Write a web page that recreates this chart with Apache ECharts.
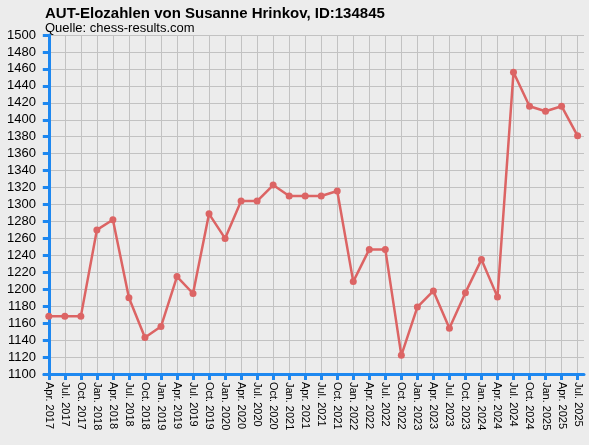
<!DOCTYPE html>
<html>
<head>
<meta charset="utf-8">
<script src="https://cdn.jsdelivr.net/npm/echarts@6/dist/echarts.min.js"></script>
<style>
    html, body { margin: 0; padding: 0; background: #ececec; }
    #chart { width: 589px; height: 445px; }
</style>
</head>
<body>
<div id="chart"></div>
<script>
// Quartale der Elo-Liste
var quarters = [
    'Apr. 2017', 'Jul. 2017', 'Oct. 2017', 'Jan. 2018', 'Apr. 2018', 'Jul. 2018', 'Oct. 2018',
    'Jan. 2019', 'Apr. 2019', 'Jul. 2019', 'Oct. 2019', 'Jan. 2020', 'Apr. 2020', 'Jul. 2020',
    'Oct. 2020', 'Jan. 2021', 'Apr. 2021', 'Jul. 2021', 'Oct. 2021', 'Jan. 2022', 'Apr. 2022',
    'Jul. 2022', 'Oct. 2022', 'Jan. 2023', 'Apr. 2023', 'Jul. 2023', 'Oct. 2023', 'Jan. 2024',
    'Apr. 2024', 'Jul. 2024', 'Oct. 2024', 'Jan. 2025', 'Apr. 2025', 'Jul. 2025'
];
// Elozahlen
var elo = [
    1168, 1168, 1168, 1270, 1282, 1190, 1143,
    1156, 1215, 1195, 1289, 1260, 1304, 1304,
    1323, 1310, 1310, 1310, 1316, 1209, 1247,
    1247, 1122, 1179, 1198, 1154, 1196, 1235,
    1191, 1456, 1416, 1410, 1416, 1381
];
var yMin = 1100, yMax = 1500, yStep = 20;

var idx = quarters.map(function (q, i) { return i; });
var points = elo.map(function (v, i) { return [i, v]; });

var chart = echarts.init(document.getElementById('chart'));
var option = {
    backgroundColor: '#ececec',
    animation: false,
    title: {
        text: 'AUT-Elozahlen von Susanne Hrinkov, ID:134845',
        subtext: 'Quelle: chess-results.com',
        left: 40,
        top: 1,
        itemGap: 1,
        textStyle: { fontFamily: 'Liberation Sans', fontSize: 15, fontWeight: 'bold', color: '#000' },
        subtextStyle: { fontFamily: 'Liberation Sans', fontSize: 13, color: '#000' }
    },
    grid: { left: 44, right: 5, top: 35, bottom: 71 },
    xAxis: {
        type: 'value',
        min: -0.3,
        max: 33.4,
        axisLine: { show: true, lineStyle: { color: '#1e88f0', width: 3 } },
        axisTick: { show: true, customValues: idx, length: 6, lineStyle: { color: '#1e88f0', width: 3 } },
        axisLabel: {
            customValues: idx,
            rotate: -90,
            margin: 8,
            fontFamily: 'Liberation Sans',
            fontSize: 11,
            color: '#000',
            formatter: function (v) { return quarters[Math.round(v)] || ''; }
        },
        splitLine: { show: true, customValues: idx, lineStyle: { color: '#c2c2c2', width: 1 } }
    },
    yAxis: {
        type: 'value',
        min: yMin,
        max: yMax,
        interval: yStep,
        axisLine: { show: true, lineStyle: { color: '#1e88f0', width: 3 } },
        axisTick: { show: true, length: 6, lineStyle: { color: '#1e88f0', width: 3 } },
        axisLabel: {
            margin: 8,
            fontFamily: 'Liberation Sans',
            fontSize: 13,
            color: '#000',
            formatter: function (v) { return String(v); }
        },
        splitLine: { show: true, lineStyle: { color: '#c2c2c2', width: 1 } }
    },
    series: [{
        type: 'line',
        data: points,
        symbol: 'circle',
        symbolSize: 7,
        lineStyle: { color: '#dc6464', width: 2.5 },
        itemStyle: { color: '#dc6464' }
    }]
};
chart.setOption(option);
</script>
</body>
</html>
